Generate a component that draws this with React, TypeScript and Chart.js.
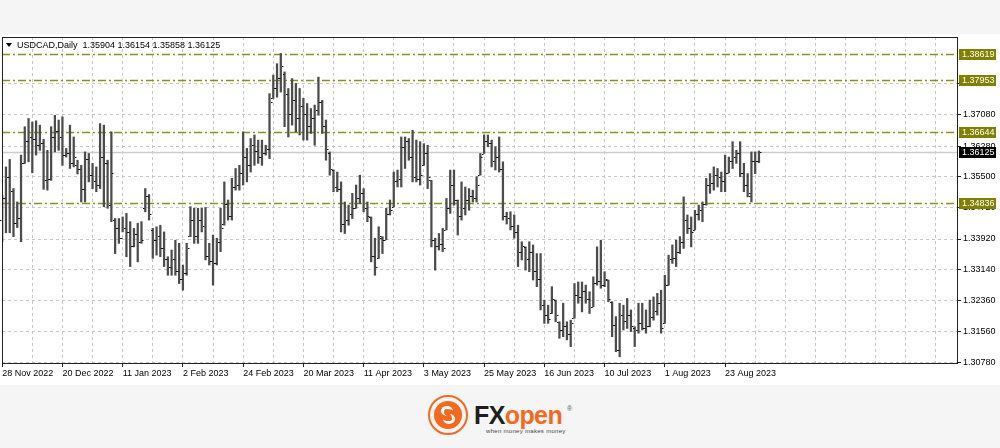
import React, { useEffect, useRef } from "react";
import { Chart, registerables } from "chart.js";

Chart.register(...registerables);

const symbolTitle = "USDCAD,Daily";
const headerQuote = ["1.35904", "1.36154", "1.35858", "1.36125"];

const dateLabels = [
  "28 Nov 2022", "20 Dec 2022", "11 Jan 2023", "2 Feb 2023", "24 Feb 2023",
  "20 Mar 2023", "11 Apr 2023", "3 May 2023", "25 May 2023", "16 Jun 2023",
  "10 Jul 2023", "1 Aug 2023", "23 Aug 2023",
];

const yTickValues = [1.3078, 1.3156, 1.3236, 1.3314, 1.3392, 1.3472, 1.355, 1.3628, 1.3708, 1.3786];
const levelValues = [1.38619, 1.37953, 1.36644, 1.34836];
const currentPrice = 1.36125;

const opens = [
  1.3440, 1.3495, 1.3550, 1.3515, 1.3432, 1.3445, 1.3584, 1.3640, 1.3650, 1.3645,
  1.3630, 1.3635, 1.3541, 1.3545, 1.3650, 1.3665, 1.3650, 1.3605, 1.3610, 1.3585,
  1.3580, 1.3570, 1.3520, 1.3595, 1.3555, 1.3540, 1.3530, 1.3600, 1.3585, 1.3478,
  1.3440, 1.3420, 1.3395, 1.3420, 1.3410, 1.3375, 1.3405, 1.3385, 1.3470, 1.3500,
  1.3415, 1.3390, 1.3400, 1.3370, 1.3340, 1.3320, 1.3340, 1.3310, 1.3290, 1.3305,
  1.3400, 1.3440, 1.3400, 1.3440, 1.3425, 1.3350, 1.3335, 1.3330, 1.3385, 1.3430,
  1.3480, 1.3450, 1.3525, 1.3530, 1.3560, 1.3600, 1.3580, 1.3630, 1.3615, 1.3600,
  1.3610, 1.3620, 1.3750, 1.3775, 1.3800, 1.3810, 1.3760, 1.3710, 1.3745, 1.3700,
  1.3730, 1.3710, 1.3680, 1.3700, 1.3720, 1.3740, 1.3680, 1.3610, 1.3567, 1.3525,
  1.3520, 1.3430, 1.3440, 1.3455, 1.3470, 1.3495, 1.3510, 1.3470, 1.3448, 1.3350,
  1.3345, 1.3395, 1.3390, 1.3455, 1.3474, 1.3540, 1.3545, 1.3625, 1.3640, 1.3600,
  1.3550, 1.3545, 1.3579, 1.3610, 1.3541, 1.3390, 1.3375, 1.3380, 1.3415, 1.3470,
  1.3530, 1.3490, 1.3450, 1.3470, 1.3490, 1.3500, 1.3495, 1.3555, 1.3609, 1.3640,
  1.3635, 1.3590, 1.3600, 1.3570, 1.3450, 1.3445, 1.3425, 1.3410, 1.3360, 1.3372,
  1.3340, 1.3360, 1.3310, 1.3290, 1.3225, 1.3200, 1.3203, 1.3237, 1.3182, 1.3160,
  1.3170, 1.3150, 1.3191, 1.3250, 1.3245, 1.3260, 1.3240, 1.3220, 1.3280, 1.3285,
  1.3275, 1.3288, 1.3233, 1.3175, 1.3110, 1.3200, 1.3185, 1.3200, 1.3165, 1.3160,
  1.3180, 1.3165, 1.3170, 1.3195, 1.3210, 1.3230, 1.3178, 1.3275, 1.3340, 1.3345,
  1.3360, 1.3385, 1.3440, 1.3420, 1.3415, 1.3455, 1.3465, 1.3480, 1.3530, 1.3535,
  1.3555, 1.3550, 1.3540, 1.3560, 1.3590, 1.3600, 1.3610, 1.3560, 1.3530, 1.3500,
  1.3590, 1.35904,
];

const highs = [
  1.3503, 1.3575, 1.3594, 1.3520, 1.3486, 1.3605, 1.3677, 1.3698, 1.3689, 1.3692,
  1.3681, 1.3645, 1.3617, 1.3677, 1.3706, 1.3694, 1.3702, 1.3622, 1.3681, 1.3651,
  1.3592, 1.3579, 1.3613, 1.3609, 1.3584, 1.3575, 1.3685, 1.3681, 1.3592, 1.3664,
  1.3444, 1.3444, 1.3448, 1.3457, 1.3436, 1.3419, 1.3432, 1.3436, 1.3520, 1.3505,
  1.3419, 1.3423, 1.3427, 1.3410, 1.3347, 1.3364, 1.3389, 1.3381, 1.3326, 1.3381,
  1.3474, 1.3470, 1.3470, 1.3470, 1.3472, 1.3381, 1.3402, 1.3394, 1.3470, 1.3537,
  1.3491, 1.3546, 1.3571, 1.3579, 1.3664, 1.3622, 1.3647, 1.3656, 1.3643, 1.3643,
  1.3630, 1.3761, 1.3808, 1.3837, 1.3863, 1.3816, 1.3774, 1.3799, 1.3787, 1.3774,
  1.3749, 1.3736, 1.3723, 1.3732, 1.3803, 1.3744, 1.3694, 1.3613, 1.3567, 1.3562,
  1.3537, 1.3486, 1.3478, 1.3508, 1.3529, 1.3554, 1.3520, 1.3486, 1.3448, 1.3394,
  1.3423, 1.3398, 1.3470, 1.3491, 1.3562, 1.3567, 1.3651, 1.3651, 1.3647, 1.3668,
  1.3643, 1.3639, 1.3634, 1.3630, 1.3541, 1.3394, 1.3406, 1.3419, 1.3495, 1.3567,
  1.3567, 1.3491, 1.3537, 1.3524, 1.3520, 1.3516, 1.3550, 1.3609, 1.3656, 1.3656,
  1.3643, 1.3626, 1.3651, 1.3588, 1.3460, 1.3461, 1.3453, 1.3427, 1.3385, 1.3372,
  1.3385, 1.3377, 1.3355, 1.3355, 1.3237, 1.3224, 1.3271, 1.3237, 1.3182, 1.3229,
  1.3182, 1.3186, 1.3279, 1.3283, 1.3283, 1.3275, 1.3258, 1.3296, 1.3372, 1.3389,
  1.3309, 1.3288, 1.3233, 1.3195, 1.3229, 1.3224, 1.3241, 1.3212, 1.3169, 1.3229,
  1.3229, 1.3212, 1.3237, 1.3245, 1.3254, 1.3262, 1.3300, 1.3351, 1.3377, 1.3389,
  1.3398, 1.3499, 1.3453, 1.3448, 1.3465, 1.3478, 1.3486, 1.3546, 1.3558, 1.3575,
  1.3571, 1.3562, 1.3605, 1.3600, 1.3639, 1.3617, 1.3639, 1.3584, 1.3558, 1.3613,
  1.3613, 1.36154,
];

const lows = [
  1.3385, 1.3408, 1.3408, 1.3398, 1.3421, 1.3385, 1.3584, 1.3588, 1.3560, 1.3605,
  1.3617, 1.3518, 1.3516, 1.3541, 1.3613, 1.3617, 1.3579, 1.3600, 1.3571, 1.3575,
  1.3557, 1.3486, 1.3486, 1.3537, 1.3520, 1.3512, 1.3520, 1.3474, 1.3470, 1.3436,
  1.3355, 1.3381, 1.3410, 1.3347, 1.3322, 1.3372, 1.3334, 1.3381, 1.3461, 1.3440,
  1.3343, 1.3351, 1.3347, 1.3322, 1.3300, 1.3300, 1.3300, 1.3279, 1.3262, 1.3300,
  1.3398, 1.3381, 1.3381, 1.3410, 1.3339, 1.3326, 1.3275, 1.3326, 1.3360, 1.3427,
  1.3440, 1.3440, 1.3516, 1.3516, 1.3529, 1.3537, 1.3562, 1.3579, 1.3584, 1.3579,
  1.3605, 1.3596, 1.3749, 1.3752, 1.3765, 1.3677, 1.3651, 1.3681, 1.3664, 1.3656,
  1.3643, 1.3643, 1.3660, 1.3630, 1.3706, 1.3660, 1.3592, 1.3554, 1.3512, 1.3512,
  1.3410, 1.3406, 1.3427, 1.3444, 1.3470, 1.3482, 1.3461, 1.3436, 1.3334, 1.3300,
  1.3343, 1.3355, 1.3390, 1.3453, 1.3474, 1.3524, 1.3524, 1.3571, 1.3592, 1.3537,
  1.3537, 1.3529, 1.3579, 1.3520, 1.3372, 1.3313, 1.3364, 1.3360, 1.3415, 1.3457,
  1.3478, 1.3402, 1.3440, 1.3453, 1.3465, 1.3486, 1.3486, 1.3554, 1.3609, 1.3626,
  1.3575, 1.3567, 1.3562, 1.3440, 1.3430, 1.3415, 1.3394, 1.3322, 1.3339, 1.3313,
  1.3309, 1.3288, 1.3271, 1.3212, 1.3178, 1.3178, 1.3203, 1.3182, 1.3140, 1.3144,
  1.3136, 1.3119, 1.3191, 1.3229, 1.3207, 1.3229, 1.3203, 1.3220, 1.3275, 1.3267,
  1.3271, 1.3233, 1.3144, 1.3106, 1.3093, 1.3161, 1.3165, 1.3157, 1.3119, 1.3153,
  1.3161, 1.3153, 1.3169, 1.3186, 1.3199, 1.3153, 1.3178, 1.3275, 1.3330, 1.3322,
  1.3355, 1.3368, 1.3406, 1.3372, 1.3415, 1.3440, 1.3436, 1.3478, 1.3508, 1.3516,
  1.3524, 1.3512, 1.3512, 1.3560, 1.3571, 1.3584, 1.3550, 1.3512, 1.3499, 1.3486,
  1.3558, 1.35858,
];

const closes = [
  1.3495, 1.3550, 1.3515, 1.3432, 1.3445, 1.3584, 1.3640, 1.3650, 1.3645, 1.3630,
  1.3635, 1.3541, 1.3545, 1.3650, 1.3665, 1.3650, 1.3605, 1.3610, 1.3585, 1.3600,
  1.3570, 1.3520, 1.3595, 1.3555, 1.3540, 1.3530, 1.3600, 1.3585, 1.3478, 1.3560,
  1.3420, 1.3395, 1.3420, 1.3410, 1.3375, 1.3405, 1.3385, 1.3390, 1.3500, 1.3455,
  1.3390, 1.3400, 1.3370, 1.3340, 1.3320, 1.3340, 1.3310, 1.3290, 1.3305, 1.3370,
  1.3440, 1.3400, 1.3440, 1.3425, 1.3350, 1.3335, 1.3330, 1.3385, 1.3420, 1.3480,
  1.3450, 1.3525, 1.3530, 1.3560, 1.3600, 1.3580, 1.3630, 1.3615, 1.3600, 1.3610,
  1.3620, 1.3740, 1.3775, 1.3800, 1.3830, 1.3760, 1.3710, 1.3745, 1.3700, 1.3730,
  1.3710, 1.3680, 1.3700, 1.3720, 1.3740, 1.3680, 1.3620, 1.3570, 1.3525, 1.3520,
  1.3430, 1.3440, 1.3455, 1.3470, 1.3495, 1.3510, 1.3470, 1.3450, 1.3350, 1.3320,
  1.3400, 1.3390, 1.3455, 1.3465, 1.3540, 1.3545, 1.3625, 1.3640, 1.3600, 1.3550,
  1.3545, 1.3555, 1.3610, 1.3550, 1.3390, 1.3375, 1.3380, 1.3370, 1.3470, 1.3530,
  1.3490, 1.3450, 1.3470, 1.3490, 1.3500, 1.3495, 1.3530, 1.3600, 1.3640, 1.3635,
  1.3590, 1.3600, 1.3570, 1.3450, 1.3445, 1.3425, 1.3410, 1.3360, 1.3375, 1.3340,
  1.3360, 1.3310, 1.3290, 1.3225, 1.3200, 1.3190, 1.3240, 1.3200, 1.3160, 1.3170,
  1.3150, 1.3180, 1.3250, 1.3245, 1.3260, 1.3240, 1.3220, 1.3280, 1.3285, 1.3275,
  1.3290, 1.3240, 1.3175, 1.3110, 1.3200, 1.3185, 1.3200, 1.3170, 1.3160, 1.3180,
  1.3165, 1.3170, 1.3195, 1.3210, 1.3230, 1.3165, 1.3275, 1.3340, 1.3345, 1.3360,
  1.3385, 1.3440, 1.3420, 1.3410, 1.3455, 1.3465, 1.3480, 1.3530, 1.3535, 1.3555,
  1.3550, 1.3540, 1.3560, 1.3590, 1.3600, 1.3610, 1.3560, 1.3530, 1.3510, 1.3590,
  1.3590, 1.36125,
];

const FONT = '"Liberation Sans", Arial, sans-serif';
const OLIVE = "#808000";

const overlayPlugin = {
  id: "overlay",
  beforeDatasetsDraw(chart: any) {
    const { ctx, chartArea: a, scales } = chart;
    const y = scales.y;
    ctx.save();
    ctx.beginPath();
    ctx.rect(a.left, a.top, a.right - a.left, a.bottom - a.top);
    ctx.clip();
    const cy = Math.round(y.getPixelForValue(currentPrice)) + 0.5;
    ctx.strokeStyle = "#cccccc";
    ctx.lineWidth = 1.5;
    ctx.setLineDash([]);
    ctx.beginPath();
    ctx.moveTo(a.left, cy);
    ctx.lineTo(a.right, cy);
    ctx.stroke();
    ctx.strokeStyle = "#8e8e1c";
    ctx.lineWidth = 1.6;
    ctx.setLineDash([8, 3, 2, 3]);
    for (const v of levelValues) {
      const ly = Math.round(y.getPixelForValue(v)) + 0.5;
      ctx.beginPath();
      ctx.moveTo(a.left, ly);
      ctx.lineTo(a.right, ly);
      ctx.stroke();
    }
    ctx.restore();
  },
  afterDatasetsDraw(chart: any) {
    const { ctx, scales } = chart;
    const x = scales.x;
    const y = scales.y;
    ctx.save();
    ctx.fillStyle = "#111111";
    for (let i = 0; i < opens.length; i++) {
      const px = Math.round(x.getPixelForValue(i));
      ctx.fillRect(px - 2, Math.round(y.getPixelForValue(opens[i])), 1.5, 1);
      ctx.fillRect(px + 1, Math.round(y.getPixelForValue(closes[i])), 1.5, 1);
    }
    ctx.restore();
  },
  afterDraw(chart: any) {
    const { ctx, chartArea: a, scales } = chart;
    const y = scales.y;
    ctx.save();
    ctx.strokeStyle = "#222222";
    ctx.lineWidth = 1;
    ctx.setLineDash([]);
    ctx.strokeRect(Math.floor(a.left) + 0.5, Math.floor(a.top) + 0.5, Math.round(a.right - a.left), Math.round(a.bottom - a.top));
    ctx.font = `9px ${FONT}`;
    ctx.textBaseline = "middle";
    ctx.textAlign = "left";
    const boxX = Math.round(a.right) + 2;
    for (const v of levelValues) {
      const ly = Math.round(y.getPixelForValue(v));
      ctx.fillStyle = OLIVE;
      ctx.fillRect(boxX, ly - 5, 37, 11);
      ctx.fillStyle = "#ffffff";
      ctx.fillText(v.toFixed(5), boxX + 3, ly + 0.5);
    }
    const cy = Math.round(y.getPixelForValue(currentPrice));
    ctx.fillStyle = "#000000";
    ctx.fillRect(boxX, cy - 5, 37, 11);
    ctx.fillStyle = "#ffffff";
    ctx.fillText(currentPrice.toFixed(5), boxX + 3, cy + 0.5);
    const tx = a.left + 4;
    const ty = a.top + 8;
    ctx.fillStyle = "#000000";
    ctx.beginPath();
    ctx.moveTo(tx, ty - 2);
    ctx.lineTo(tx + 6, ty - 2);
    ctx.lineTo(tx + 3, ty + 2);
    ctx.closePath();
    ctx.fill();
    ctx.fillText(`${symbolTitle}  ${headerQuote.join(" ")}`, tx + 11, ty + 0.5);
    ctx.restore();
  },
};

export default function App() {
  const canvasRef = useRef<HTMLCanvasElement | null>(null);

  useEffect(() => {
    document.body.style.margin = "0";
    const canvas = canvasRef.current;
    if (!canvas) return;
    const barData = highs.map((h, i) => ({ x: i, y: [lows[i], h] }));
    const chart = new Chart(canvas, {
      type: "bar",
      data: {
        datasets: [
          {
            data: barData as any,
            backgroundColor: "#4c4c4c",
            borderWidth: 0,
            barThickness: 1.6,
            grouped: false,
          } as any,
        ],
      },
      options: {
        responsive: false,
        animation: false,
        devicePixelRatio: 1,
        layout: { padding: { left: 2, top: 3, right: 0, bottom: 0 } },
        plugins: {
          legend: { display: false },
          tooltip: { enabled: false },
          title: { display: false },
        },
        scales: {
          x: {
            type: "linear",
            min: -0.05,
            max: 253.6,
            offset: false,
            afterBuildTicks: (scale: any) => {
              const t = [];
              for (let v = 0; v <= 248; v += 8) t.push({ value: v });
              scale.ticks = t;
            },
            afterFit: (scale: any) => {
              scale.height = 22;
              scale.paddingLeft = 0;
              scale.paddingRight = 0;
            },
            ticks: {
              autoSkip: false,
              maxRotation: 0,
              minRotation: 0,
              align: "start",
              padding: 1,
              color: "#000000",
              font: { family: FONT, size: 9 },
              callback: (value: any) => {
                const v = Number(value);
                if (v % 16 === 0 && v / 16 < dateLabels.length) return dateLabels[v / 16];
                return "";
              },
            },
            grid: {
              display: true,
              offset: false,
              drawOnChartArea: true,
              drawTicks: true,
              tickLength: 4,
              color: "#c6c6c6",
              lineWidth: 1,
              tickColor: (ctx: any) =>
                ctx.tick && ctx.tick.value % 16 === 0 && ctx.tick.value <= 192 ? "#222222" : "rgba(0,0,0,0)",
            },
            border: { display: true, color: "#222222", dash: [3, 3] },
          },
          y: {
            type: "linear",
            position: "right",
            min: 1.30773,
            max: 1.39047,
            afterBuildTicks: (scale: any) => {
              scale.ticks = yTickValues.map((v) => ({ value: v }));
            },
            afterFit: (scale: any) => {
              scale.width = 43;
              scale.paddingTop = 0;
              scale.paddingBottom = 0;
            },
            ticks: {
              padding: 2,
              color: "#000000",
              font: { family: FONT, size: 9 },
              callback: (value: any) => Number(value).toFixed(5),
            },
            grid: {
              display: true,
              drawOnChartArea: true,
              drawTicks: true,
              tickLength: 4,
              color: "#c6c6c6",
              tickColor: "#222222",
              lineWidth: 1,
            },
            border: { display: true, color: "#222222", dash: [3, 3] },
          },
        },
      },
      plugins: [overlayPlugin as any],
    });
    return () => chart.destroy();
  }, []);

  const orange = "#f26a1f";
  return (
    <div style={{ position: "relative", width: 1000, height: 448, background: "#f5f5f5", overflow: "hidden", fontFamily: FONT }}>
      <canvas
        ref={canvasRef}
        width={1000}
        height={351}
        style={{ position: "absolute", left: 0, top: 34, width: 1000, height: 351, background: "#ffffff" }}
      />
      <div style={{ position: "absolute", left: 428, top: 395, width: 40, height: 40, borderRadius: "50%", border: `2px solid ${orange}`, boxSizing: "border-box" }} />
      <div style={{ position: "absolute", left: 434, top: 401, width: 28, height: 28, borderRadius: "50%", background: orange }} />
      <div style={{ position: "absolute", left: 441, top: 406, width: 12, height: 10, borderRadius: "50%", borderTop: "3px solid #ffffff", borderLeft: "3px solid #ffffff", boxSizing: "border-box" }} />
      <div style={{ position: "absolute", left: 443, top: 414, width: 12, height: 10, borderRadius: "50%", borderBottom: "3px solid #ffffff", borderRight: "3px solid #ffffff", boxSizing: "border-box" }} />
      <div style={{ position: "absolute", left: 474, top: 401, fontSize: 25, fontWeight: 700, lineHeight: "28px", letterSpacing: -0.6, whiteSpace: "nowrap" }}>
        <span style={{ color: "#1e1e1e" }}>FX</span>
        <span style={{ color: orange }}>open</span>
      </div>
      <div style={{ position: "absolute", left: 567, top: 405, fontSize: 7, color: "#555555" }}>®</div>
      <div style={{ position: "absolute", left: 486, top: 428, fontSize: 6, color: "#444444", letterSpacing: 0.3, whiteSpace: "nowrap" }}>
        when money makes money
      </div>
    </div>
  );
}
